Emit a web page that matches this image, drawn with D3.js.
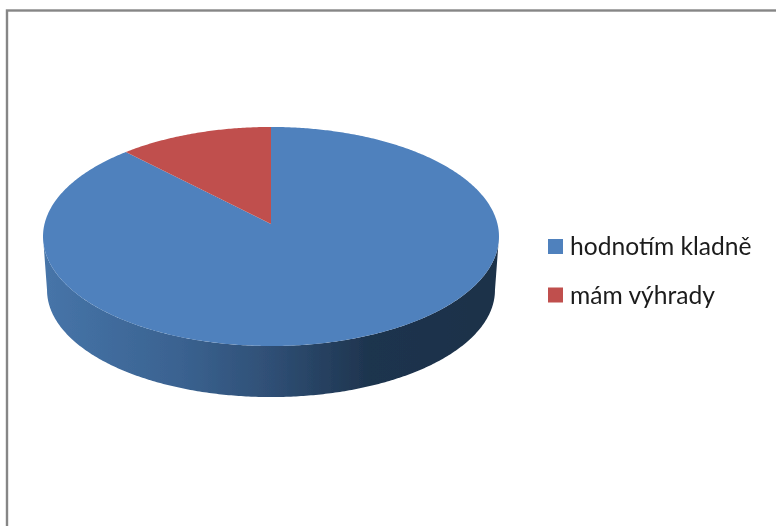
<!DOCTYPE html>
<html>
<head>
<meta charset="utf-8">
<script src="https://cdn.jsdelivr.net/npm/d3@7"></script>
<style>
  html, body { margin: 0; padding: 0; background: #fff; overflow: hidden; }
  svg { display: block; }
</style>
</head>
<body>
<div id="viz"></div>
<script>
// values (percent, estimated)
let categories = ['hodnotím kladně', 'mám výhrady'];
let values = [87.8, 12.2];
let colors = ['#4F81BD', '#C0504D'];

let svg = d3.select('#viz')
  .append('svg')
  .attr('width', 776)
  .attr('height', 526);

let defs = svg.append('defs');

defs.append('filter')
  .attr('id', 'soft')
  .append('feGaussianBlur')
  .attr('stdDeviation', 0.45);

// shading on the rim, left to right
let grad = defs.append('linearGradient')
  .attr('id', 'rim')
  .attr('gradientUnits', 'userSpaceOnUse')
  .attr('x1', 47).attr('x2', 495)
  .attr('y1', 0).attr('y2', 0);
[[0, '#4674A8'], [0.3, '#3A6290'], [0.5, '#2F4F75'], [0.72, '#1E344E'], [1, '#1D3149']].forEach(function(s) {
  grad.append('stop').attr('offset', s[0]).attr('stop-color', s[1]);
});

// frame runs off the right and bottom of the picture
svg.append('rect')
  .attr('x', 7)
  .attr('y', 10.5)
  .attr('width', 800)
  .attr('height', 560)
  .attr('fill', '#fff')
  .attr('stroke', '#868686')
  .attr('stroke-width', 2.4);

// tilted disc: angle on the pie -> point on the page, with perspective
let tilt = 0.114;
function disc(cx, cy, rx, a) {
  return function(angle) {
    let u = Math.sin(angle);
    let v = Math.cos(angle);
    return [cx + rx * u / (1 + tilt * v), cy - a * v / (1 + tilt * v)];
  };
}

let top_ = disc(271, 224, 226.5, 108.1);
let bottom = disc(271, 278, 222.5, 105.5);

let pie = d3.pie().sort(null)(values);
let line = d3.line();

function sweep(project, a0, a1) {
  let n = Math.ceil(Math.abs(a1 - a0) / 0.01);
  return d3.range(n + 1).map(function(i) {
    return project(a0 + (a1 - a0) * i / n);
  });
}

let g = svg.append('g').attr('filter', 'url(#soft)');

// rim: front of the lower disc, closed against the front of the upper one,
// both taken from their widest points
let a0 = Math.PI * 0.5 + tilt;
let a1 = Math.PI * 1.5 - tilt;
let rimPts = sweep(bottom, a0, a1).concat(sweep(top_, a1, a0));
g.append('path')
  .attr('d', line(rimPts) + 'Z')
  .attr('fill', 'url(#rim)');

// top face
g.selectAll('.slice')
  .data(pie)
  .enter().append('path')
  .attr('class', 'slice')
  .attr('d', function(d) {
    let pts = [[271, 224]].concat(sweep(top_, d.startAngle, d.endAngle));
    return line(pts) + 'Z';
  })
  .attr('fill', function(d, i) { return colors[i]; });

// legend
let legendY = d3.scalePoint()
  .domain(categories)
  .range([247, 295.5]);

let legend = svg.selectAll('.legend')
  .data(categories)
  .enter().append('g')
  .attr('class', 'legend')
  .attr('filter', 'url(#soft)')
  .attr('transform', function(d) { return 'translate(0,' + legendY(d) + ')'; });

legend.append('rect')
  .attr('x', 548)
  .attr('y', -8)
  .attr('width', 15)
  .attr('height', 15)
  .attr('fill', function(d, i) { return colors[i]; });

legend.append('text')
  .attr('x', 570)
  .attr('y', 8)
  .attr('font-family', 'Lato, "Open Sans", sans-serif')
  .attr('font-size', 24.6)
  .attr('fill', '#1a1a1a')
  .text(function(d) { return d; });
</script>
</body>
</html>
